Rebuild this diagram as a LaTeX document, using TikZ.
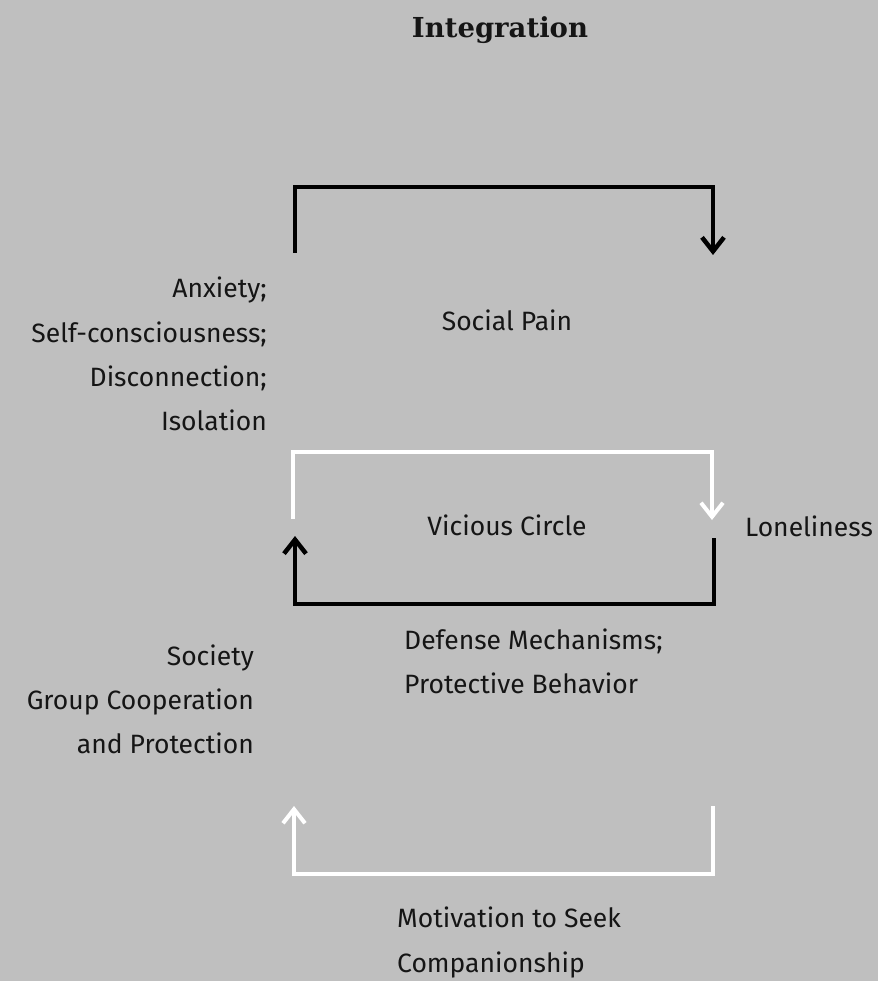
\documentclass[tikz,border=0pt]{standalone}
\usepackage{fontspec}
\setmainfont{Fira Sans}
\newfontfamily\titlefont{DejaVu Serif}
\usetikzlibrary{arrows.meta}
\definecolor{bg}{HTML}{BFBFBF}
\definecolor{ink}{HTML}{151515}
\tikzset{
  lbl/.style={inner sep=0pt, text=ink, font=\fontsize{26.5}{30}\selectfont},
  blackarrow/.style={draw=black, line width=4.5pt, -{Straight Barb[length=14pt, width=22pt, line width=4.5pt]}},
  whitearrow/.style={draw=white, line width=4pt, -{Straight Barb[length=14pt, width=22pt, line width=4pt]}},
}
\begin{document}
\begin{tikzpicture}[x=1pt, y=-1pt]
\fill[bg] (0,0) rectangle (878,981);
\useasboundingbox (0,0) rectangle (878,981);
\node[inner sep=0pt, anchor=base, text=ink, font=\titlefont\bfseries\fontsize{27.5}{32}\selectfont] (title) at (500,38) {Integration};

% top black loop
\coordinate (a1) at (295,253);
\coordinate (a2) at (295,187);
\coordinate (a3) at (713,187);
\coordinate (a4) at (713,255);
\draw[blackarrow] (a1) -- (a2) -- (a3) -- (a4);

% white loop
\coordinate (b1) at (293,519);
\coordinate (b2) at (293,452);
\coordinate (b3) at (712,452);
\coordinate (b4) at (712,520);
\draw[whitearrow] (b1) -- (b2) -- (b3) -- (b4);

% black lower loop
\coordinate (c1) at (714,538);
\coordinate (c2) at (714,604);
\coordinate (c3) at (295,604);
\coordinate (c4) at (295,536);
\draw[blackarrow] (c1) -- (c2) -- (c3) -- (c4);

% bottom white loop
\coordinate (d1) at (713,806);
\coordinate (d2) at (713,874);
\coordinate (d3) at (294,874);
\coordinate (d4) at (294,806);
\draw[whitearrow] (d1) -- (d2) -- (d3) -- (d4);

\node[lbl, anchor=base east] (anx) at (267,298) {Anxiety;};
\node[lbl, anchor=base east] (self) at (267,342) {Self-consciousness;};
\node[lbl, anchor=base east] (disc) at (267,386) {Disconnection;};
\node[lbl, anchor=base east] (iso) at (267,430) {Isolation};

\node[lbl, anchor=base] (pain) at (507,330) {Social Pain};
\node[lbl, anchor=base] (vic) at (507,535) {Vicious Circle};
\node[lbl, anchor=base west] (lon) at (745,536) {Loneliness};

\node[lbl, anchor=base west] (def) at (404,649) {Defense Mechanisms;};
\node[lbl, anchor=base west] (prot) at (404,693) {Protective Behavior};

\node[lbl, anchor=base east] (soc) at (254,665) {Society};
\node[lbl, anchor=base east] (grp) at (254,709) {Group Cooperation};
\node[lbl, anchor=base east] (andp) at (254,753) {and Protection};

\node[lbl, anchor=base west] (mot) at (397,927) {Motivation to Seek};
\node[lbl, anchor=base west] (comp) at (397,972) {Companionship};
\end{tikzpicture}
\end{document}
